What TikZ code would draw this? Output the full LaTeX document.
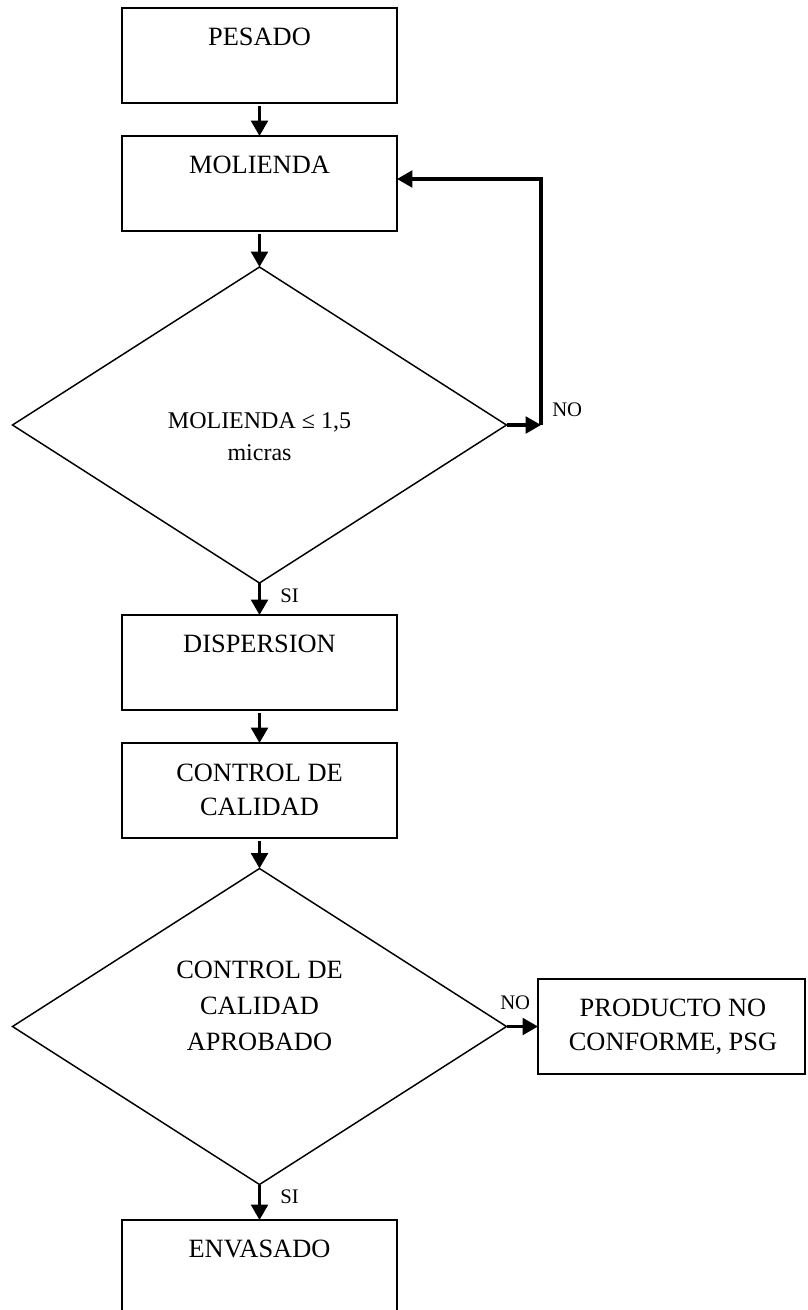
\documentclass[tikz,border=0pt]{standalone}
\usepackage{fontspec}
\setmainfont{Liberation Serif}
\usetikzlibrary{shapes.geometric,arrows.meta}

\tikzset{
  stepbox/.style={draw, line width=1.4pt, minimum width=206.25pt, minimum height=71.25pt,
                  inner sep=0pt, outer sep=0pt},
  decision/.style={diamond, draw, line width=1.1pt, minimum width=370.5pt, minimum height=237pt,
                   inner sep=0pt, outer sep=0pt},
  flow/.style={line width=2.3pt, -{Triangle[length=11.5pt,width=12.5pt]}},
  % multi-line texts are placed by the baseline of their last line
  txt/.style={font=\fontsize{19.8}{25.5}\selectfont, align=center, inner sep=0pt, anchor=base},
  dtxt/.style={font=\fontsize{18}{24}\selectfont, align=center, inner sep=0pt, anchor=base},
  lbl/.style={font=\fontsize{15.5}{18}\selectfont, inner sep=0pt, anchor=base west},
}

\begin{document}
\begin{tikzpicture}[x=0.75pt,y=-0.75pt]
\useasboundingbox (0,0) rectangle (807,1310);

% process steps
\node[stepbox] (pesado)     at (259.5,55.5)  {};
\node[stepbox] (molienda)   at (259.5,183.5) {};
\node[decision] (d1)        at (259.5,425)   {};
\node[stepbox] (dispersion) at (259.5,662.5) {};
\node[stepbox] (control)    at (259.5,790.5) {};
\node[decision] (d2)        at (259.5,1026.5) {};
\node[stepbox] (envasado)   at (259.5,1267.5) {};
\node[stepbox, minimum width=200.25pt] (producto) at (671.5,1026.5) {};

% texts
\node[txt] (tpesado)     at (259.5,45)     {PESADO};
\node[txt] (tmolienda)   at (259.5,173)    {MOLIENDA};
\node[dtxt] (td1)        at (259.5,460)    {MOLIENDA ≤ 1,5\\micras};
\node[txt] (tdispersion) at (259.5,652.7)  {DISPERSION};
\node[txt] (tcontrol)    at (259.5,815)    {CONTROL DE\\CALIDAD};
\node[txt, font=\fontsize{19.8}{27}\selectfont] (td2) at (259.5,1050) {CONTROL DE\\CALIDAD\\APROBADO};
\node[txt] (tproducto)   at (673,1050)     {PRODUCTO NO\\CONFORME, PSG};
\node[txt] (tenvasado)   at (259.5,1257.7) {ENVASADO};

% connectors
\coordinate (c1) at (541,425);
\coordinate (c2) at (541,179);
\draw[flow, shorten <=2pt] (pesado.south) -- (molienda.north);
\draw[flow, shorten <=2pt] (molienda.south) -- (d1.north);
\draw[flow] (d1.south) -- (dispersion.north);
\draw[flow, shorten <=2pt] (dispersion.south) -- (control.north);
\draw[flow, shorten <=2pt] (control.south) -- (d2.north);
\draw[flow] (d2.south) -- (envasado.north);
\draw[flow] (d2.east) -- (producto.west);
\draw[flow] (d1.east) -- (c1);
\draw[flow, line join=miter] (c1) -- (c2) -- (molienda.east |- c2);

% branch labels
\node[lbl] (no1) at (552,416)  {NO};
\node[lbl] (si1) at (280,602)  {SI};
\node[lbl] (no2) at (500,1009) {NO};
\node[lbl] (si2) at (280,1203) {SI};
\end{tikzpicture}
\end{document}
